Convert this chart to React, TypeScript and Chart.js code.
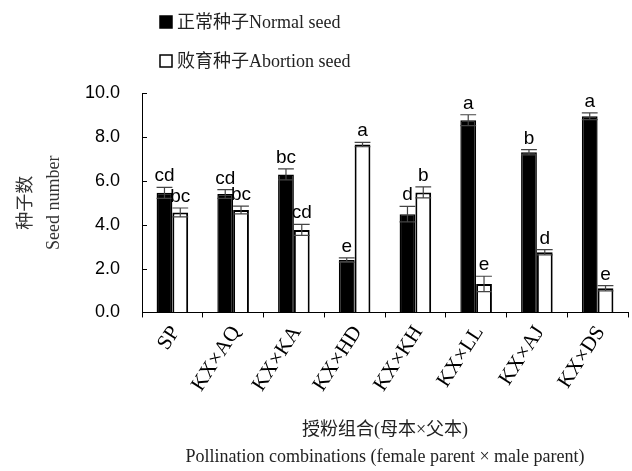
import React, { useEffect, useRef } from "react";
import { Chart, registerables } from "chart.js";

Chart.register(...registerables);

const categories = ["SP", "KX×AQ", "KX×KA", "KX×HD", "KX×KH", "KX×LL", "KX×AJ", "KX×DS"];
const normalSeed = [5.45, 5.4, 6.29, 2.39, 4.48, 8.76, 7.3, 8.94];
const abortionSeed = [4.56, 4.67, 3.76, 7.65, 5.47, 1.3, 2.74, 1.1];
const normalErr = [0.25, 0.2, 0.25, 0.1, 0.35, 0.25, 0.12, 0.15];
const abortionErr = [0.2, 0.18, 0.25, 0.1, 0.25, 0.35, 0.12, 0.12];
const normalLetters = ["cd", "cd", "bc", "e", "d", "a", "b", "a"];
const abortionLetters = ["bc", "bc", "cd", "a", "b", "e", "d", "e"];
const legendLabels = ["正常种子Normal seed", "败育种子Abortion seed"];
const yTitle = ["种子数", "Seed number"];
const xTitle = ["授粉组合(母本×父本)", "Pollination combinations (female parent × male parent)"];

const SERIF = '"Liberation Serif", "Times New Roman", "Noto Sans CJK SC", serif';
const SANS = '"Liberation Sans", Arial, sans-serif';

const errs = [normalErr, abortionErr];
const letters = [normalLetters, abortionLetters];

const annotatePlugin = {
  id: "annotate",
  afterDatasetsDraw(chart: any) {
    const ctx = chart.ctx;
    const y = chart.scales.y;
    ctx.save();
    chart.data.datasets.forEach((ds: any, i: number) => {
      const meta = chart.getDatasetMeta(i);
      meta.data.forEach((bar: any, j: number) => {
        const v = ds.data[j];
        const e = errs[i][j];
        const yt = y.getPixelForValue(v + e);
        const yb = y.getPixelForValue(v - e);
        const half = bar.width / 2;
        ctx.strokeStyle = "#444";
        ctx.lineWidth = 1.2;
        ctx.beginPath();
        ctx.moveTo(bar.x, yt);
        ctx.lineTo(bar.x, yb);
        ctx.moveTo(bar.x - half, yt);
        ctx.lineTo(bar.x + half, yt);
        ctx.moveTo(bar.x - half, yb);
        ctx.lineTo(bar.x + half, yb);
        ctx.stroke();
        ctx.fillStyle = "#000";
        ctx.font = "19px " + SANS;
        ctx.textAlign = "center";
        ctx.textBaseline = "alphabetic";
        ctx.fillText(letters[i][j], bar.x, yt - 6);
      });
    });
    const xl = chart.scales.x.left;
    ctx.strokeStyle = "#000";
    ctx.lineWidth = 1;
    y.ticks.forEach((t: any) => {
      const py = Math.round(y.getPixelForValue(t.value)) + 0.5;
      ctx.beginPath();
      ctx.moveTo(xl, py);
      ctx.lineTo(xl + 5, py);
      ctx.stroke();
    });
    ctx.restore();
  },
  afterDraw(chart: any) {
    const ctx = chart.ctx;
    ctx.save();
    const ds = chart.data.datasets;
    const rows = [22, 61];
    ds.forEach((d: any, i: number) => {
      const cy = rows[i];
      ctx.fillStyle = d.backgroundColor;
      ctx.strokeStyle = "#000";
      ctx.lineWidth = 1.5;
      ctx.fillRect(160, cy - 6, 12, 12);
      ctx.strokeRect(160, cy - 6, 12, 12);
      ctx.fillStyle = "#222";
      ctx.font = "18px " + SERIF;
      ctx.textAlign = "left";
      ctx.textBaseline = "middle";
      ctx.fillText(legendLabels[i], 177, cy + 1);
    });
    ctx.restore();
  },
};

export default function App() {
  const ref = useRef<HTMLCanvasElement>(null);
  useEffect(() => {
    const chart = new Chart(ref.current as HTMLCanvasElement, {
      type: "bar",
      data: {
        labels: categories,
        datasets: [
          {
            label: legendLabels[0],
            data: normalSeed,
            backgroundColor: "#000",
            borderColor: "#000",
            borderWidth: 1.5,
            categoryPercentage: 0.52,
            barPercentage: 1.0,
          },
          {
            label: legendLabels[1],
            data: abortionSeed,
            backgroundColor: "#fff",
            borderColor: "#000",
            borderWidth: 2,
            categoryPercentage: 0.52,
            barPercentage: 1.0,
          },
        ],
      },
      options: {
        animation: false,
        responsive: false,
        layout: { padding: { top: 93, right: 4, left: 3, bottom: 0 } },
        plugins: { legend: { display: false }, tooltip: { enabled: false } },
        scales: {
          x: {
            grid: { display: true, drawOnChartArea: false, offset: true, tickLength: 5, color: "#000" },
            border: { color: "#000", width: 1 },
            ticks: {
              color: "#000",
              font: { family: SERIF, size: 21 },
              minRotation: 57,
              maxRotation: 57,
              padding: 4,
              labelOffset: 3,
            },
            title: {
              display: true,
              text: xTitle,
              color: "#222",
              font: { family: SERIF, size: 18, lineHeight: 1.5 },
              padding: { top: 17, bottom: 0 },
            },
          },
          y: {
            min: 0,
            max: 10,
            afterFit: (scale: any) => {
              scale.width = 139;
            },
            ticks: {
              stepSize: 2,
              color: "#000",
              font: { family: SANS, size: 18 },
              padding: 22,
              callback: (v: any) => Number(v).toFixed(1),
            },
            grid: { display: true, drawOnChartArea: false, drawTicks: false },
            border: { color: "#000", width: 1 },
            title: {
              display: true,
              text: yTitle,
              color: "#333",
              font: { family: SERIF, size: 18, lineHeight: 1.55 },
              padding: { top: 9, bottom: 0 },
            },
          },
        },
      },
      plugins: [annotatePlugin],
    });
    return () => chart.destroy();
  }, []);
  return (
    <div style={{ position: "absolute", left: 0, top: 0, width: 632, height: 471, background: "#fff" }}>
      <canvas ref={ref} width={632} height={471} />
    </div>
  );
}
